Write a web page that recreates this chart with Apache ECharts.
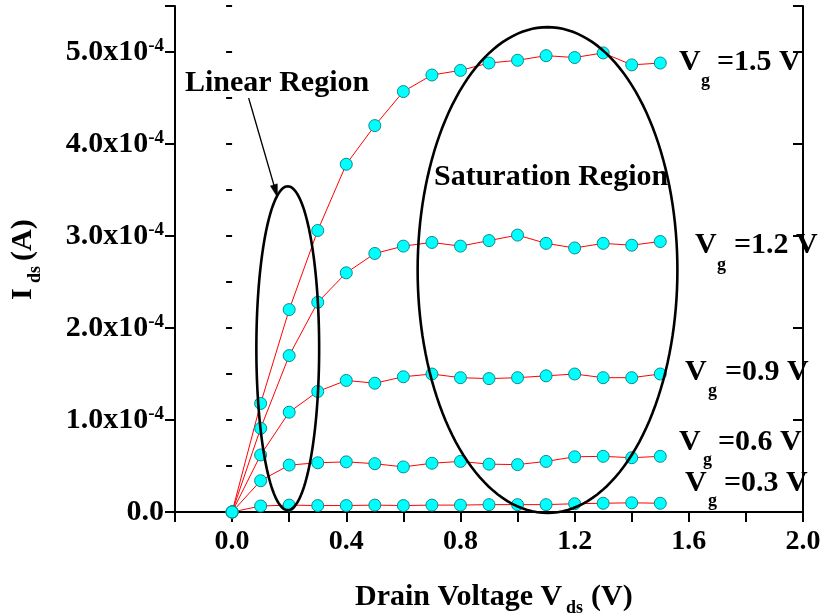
<!DOCTYPE html>
<html>
<head>
<meta charset="utf-8">
<script src="https://cdn.jsdelivr.net/npm/echarts@6/dist/echarts.min.js"></script>
<style>
  html, body { margin: 0; padding: 0; background: #fff; }
  #chart { width: 823px; height: 613px; }
</style>
</head>
<body>
<div id="chart"></div>
<script>
// Drain voltage sweep (V)
const vds = [0.0, 0.1, 0.2, 0.3, 0.4, 0.5, 0.6, 0.7, 0.8, 0.9, 1.0, 1.1, 1.2, 1.3, 1.4, 1.5];

// Drain current, in units of 1e-4 A, one array per gate voltage
const idsVg15 = [0, 1.18, 2.20, 3.06, 3.78, 4.20, 4.57, 4.75, 4.80, 4.88, 4.91, 4.96, 4.94, 4.99, 4.86, 4.88];
const idsVg12 = [0, 0.91, 1.70, 2.28, 2.60, 2.81, 2.89, 2.93, 2.89, 2.95, 3.01, 2.92, 2.87, 2.92, 2.90, 2.94];
const idsVg09 = [0, 0.62, 1.085, 1.31, 1.43, 1.40, 1.47, 1.50, 1.46, 1.45, 1.46, 1.48, 1.50, 1.46, 1.46, 1.50];
const idsVg06 = [0, 0.34, 0.51, 0.535, 0.545, 0.525, 0.49, 0.53, 0.55, 0.52, 0.515, 0.55, 0.60, 0.605, 0.59, 0.605];
const idsVg03 = [0, 0.065, 0.075, 0.07, 0.07, 0.075, 0.07, 0.075, 0.075, 0.08, 0.08, 0.08, 0.09, 0.095, 0.10, 0.095];
const UNIT = 1e-4;

const gateVoltages = ['1.5', '1.2', '0.9', '0.6', '0.3'];
const currentSets = [idsVg15, idsVg12, idsVg09, idsVg06, idsVg03];

// Region outlines: [centre Vds, centre Ids, half-width (V), half-height (A)]
const linearEllipse = [0.195, 1.78e-4, 0.11, 1.76e-4];
const saturationEllipse = [1.105, 2.63e-4, 0.455, 2.64e-4];
// Pointer from the "Linear Region" caption: [x1, y1, x2, y2]
const linearArrow = [0.058, 4.50e-4, 0.159, 3.42e-4];

// Axis tick labels
const xTickLabels = ['0.0', '0.4', '0.8', '1.2', '1.6', '2.0'];
const yExponent = '-4';

const SERIF = '"Liberation Serif", "Times New Roman", serif';
const BLACK = '#000';

const chart = echarts.init(document.getElementById('chart'), null, { renderer: 'canvas' });

function xLabel(v) {
  const s = v.toFixed(1);
  return xTickLabels.indexOf(s) >= 0 ? s : '';
}
function yLabel(v) {
  const n = v / UNIT;
  const r = Math.round(n);
  if (Math.abs(n - r) > 1e-6) return '';
  if (r === 0) return '{m|0.0}';
  return '{m|' + r.toFixed(1) + 'x10}{s|' + yExponent + '}';
}

const lineSeries = currentSets.map((arr, k) => ({
  name: 'Vg=' + gateVoltages[k] + ' V',
  type: 'line',
  xAxisIndex: 0,
  yAxisIndex: 0,
  data: vds.map((x, i) => [x, arr[i] * UNIT]),
  symbol: 'circle',
  symbolSize: 12,
  showSymbol: true,
  itemStyle: { color: '#00FFFF', borderColor: '#0A8C8C', borderWidth: 1 },
  lineStyle: { color: '#FF0000', width: 1 },
  emphasis: { disabled: true },
  animation: false,
  z: 3
}));

function renderEllipse(params, api) {
  const cx = api.value(0), cy = api.value(1), hx = api.value(2), hy = api.value(3);
  const c = api.coord([cx, cy]);
  const rx = Math.abs(api.coord([cx + hx, cy])[0] - c[0]);
  const ry = Math.abs(api.coord([cx, cy + hy])[1] - c[1]);
  const pts = [];
  const N = 160;
  for (let i = 0; i < N; i++) {
    const t = (i / N) * Math.PI * 2;
    pts.push([c[0] + rx * Math.cos(t), c[1] + ry * Math.sin(t)]);
  }
  return {
    type: 'polygon',
    shape: { points: pts },
    style: { fill: 'none', stroke: BLACK, lineWidth: 2.6 }
  };
}

function renderArrow(params, api) {
  const p1 = api.coord([api.value(0), api.value(1)]);
  const p2 = api.coord([api.value(2), api.value(3)]);
  const dx = p2[0] - p1[0], dy = p2[1] - p1[1];
  const len = Math.sqrt(dx * dx + dy * dy);
  const ux = dx / len, uy = dy / len;
  const headL = 13, headW = 3.6;
  const bx = p2[0] - ux * headL, by = p2[1] - uy * headL;
  return {
    type: 'group',
    children: [
      { type: 'line', shape: { x1: p1[0], y1: p1[1], x2: bx + ux * 2, y2: by + uy * 2 },
        style: { stroke: BLACK, lineWidth: 1.3 } },
      { type: 'polygon',
        shape: { points: [[p2[0], p2[1]], [bx - uy * headW, by + ux * headW], [bx + uy * headW, by - ux * headW]] },
        style: { fill: BLACK, stroke: BLACK, lineWidth: 0.5 } }
    ]
  };
}

const labelFont = { fontFamily: SERIF, fontWeight: 'bold', color: BLACK };

const option = {
  animation: false,
  backgroundColor: '#fff',
  grid: { left: 175, right: 20, top: 6, bottom: 101, containLabel: false, outerBoundsMode: 'none' },
  xAxis: [
    {
      type: 'value', position: 'bottom', min: -0.2, max: 2.0, interval: 0.2,
      axisLine: { show: true, lineStyle: { color: BLACK, width: 2 } },
      axisTick: { show: true, inside: false, length: 9, lineStyle: { color: BLACK, width: 2 } },
      axisLabel: Object.assign({ fontSize: 28, margin: 16, formatter: xLabel, showMinLabel: true, showMaxLabel: true }, labelFont),
      splitLine: { show: false }
    },
    {
      type: 'value', position: 'top', min: -0.2, max: 2.0, interval: 0.2,
      axisLine: { show: true, lineStyle: { color: BLACK, width: 2 } },
      axisTick: { show: true, inside: true, length: 10, lineStyle: { color: BLACK, width: 2 } },
      axisLabel: { show: false },
      splitLine: { show: false }
    }
  ],
  yAxis: [
    {
      type: 'value', position: 'left', min: 0, max: 5.5e-4, interval: 1e-4,
      axisLine: { show: true, onZero: false, lineStyle: { color: BLACK, width: 2 } },
      axisTick: { show: true, inside: false, length: 10, lineStyle: { color: BLACK, width: 2 } },
      axisLabel: {
        margin: 11, formatter: yLabel, showMaxLabel: true,
        rich: {
          m: { fontFamily: SERIF, fontWeight: 'bold', fontSize: 30, lineHeight: 30, color: BLACK, verticalAlign: 'middle' },
          s: { fontFamily: SERIF, fontWeight: 'bold', fontSize: 19, lineHeight: 19, color: BLACK, verticalAlign: 'top' }
        }
      },
      splitLine: { show: false }
    },
    {
      type: 'value', position: 'left', min: 0, max: 5.5e-4, interval: 0.5e-4,
      axisLine: { show: false },
      axisTick: { show: true, inside: false, length: 5, lineStyle: { color: BLACK, width: 2 } },
      axisLabel: { show: false },
      splitLine: { show: false }
    },
    {
      type: 'value', position: 'right', min: 0, max: 5.5e-4, interval: 1e-4,
      axisLine: { show: true, onZero: false, lineStyle: { color: BLACK, width: 2 } },
      axisTick: { show: true, inside: true, length: 10, lineStyle: { color: BLACK, width: 2 } },
      axisLabel: { show: false },
      splitLine: { show: false }
    },
    {
      type: 'value', position: 'right', min: 0, max: 5.5e-4, interval: 0.5e-4,
      axisLine: { show: false },
      axisTick: { show: true, inside: true, length: 6, lineStyle: { color: BLACK, width: 2 } },
      axisLabel: { show: false },
      splitLine: { show: false }
    }
  ],
  series: lineSeries.concat([
    {
      name: 'regions', type: 'custom', renderItem: renderEllipse,
      xAxisIndex: 0, yAxisIndex: 0, encode: { x: 0, y: 1 },
      data: [linearEllipse, saturationEllipse], z: 5, silent: true, clip: false
    },
    {
      name: 'pointer', type: 'custom', renderItem: renderArrow,
      xAxisIndex: 0, yAxisIndex: 0, encode: { x: [0, 2], y: [1, 3] },
      data: [linearArrow], z: 5, silent: true, clip: false
    }
  ])
};

// Text pieces: captions, gate-voltage tags and axis titles
function txt(text, x, y, size, extra) {
  return Object.assign({
    type: 'text', x: x, y: y, silent: true, z: 10,
    style: {
      text: text, fontFamily: SERIF, fontWeight: 'bold', fontSize: size, fill: BLACK,
      align: 'left', verticalAlign: 'middle', textAlign: 'left', textVerticalAlign: 'middle'
    }
  }, extra || {});
}

const gateTagLayout = [
  { vx: 679, vy: 62, gx: 701, gy: 81, tx: 717 },
  { vx: 695, vy: 245, gx: 717, gy: 265, tx: 734 },
  { vx: 685, vy: 372, gx: 708, gy: 391, tx: 725 },
  { vx: 679, vy: 442, gx: 703, gy: 460, tx: 718 },
  { vx: 685, vy: 483, gx: 708, gy: 501, tx: 724 }
];

const graphics = [];
graphics.push(txt('Linear Region', 185, 83, 30));
graphics.push(txt('Saturation Region', 434, 177, 30));
gateVoltages.forEach((g, k) => {
  const L = gateTagLayout[k];
  graphics.push(txt('V', L.vx, L.vy, 30));
  graphics.push(txt('g', L.gx, L.gy, 18));
  graphics.push(txt('=' + g + ' V', L.tx, L.vy, 30));
});
// x-axis title
graphics.push(txt('Drain Voltage V', 355, 597, 30));
graphics.push(txt('ds', 566, 608, 18));
graphics.push(txt('(V)', 591, 597, 30));
// y-axis title, rotated to read upwards
graphics.push({
  type: 'group', x: 23, y: 300, rotation: Math.PI / 2, silent: true,
  children: [
    txt('I', 0, 0, 30),
    txt('ds', 17, 12, 18),
    txt('(A)', 39, 0, 30)
  ]
});
option.graphic = { elements: graphics };

chart.setOption(option);
</script>
</body>
</html>
